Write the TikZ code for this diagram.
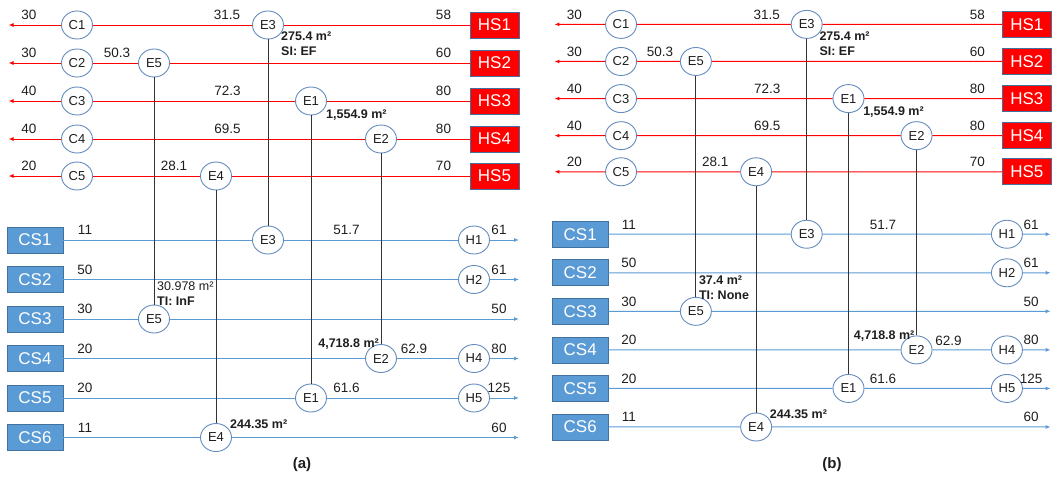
\documentclass[tikz,border=0pt]{standalone}
\usepackage{fontspec}
\setmainfont{Liberation Sans}
\usetikzlibrary{shapes.geometric, arrows.meta}

\definecolor{hotred}{RGB}{255,0,0}
\definecolor{coldblue}{RGB}{91,155,213}
\definecolor{ringblue}{RGB}{100,140,190}
\definecolor{boxedge}{RGB}{65,113,156}
\definecolor{txt}{RGB}{30,30,30}

\begin{document}
\begin{tikzpicture}[x=1pt, y=-1pt, >={Latex[length=5pt,width=4pt]},
    unit/.style={ellipse, draw=ringblue, fill=white, line width=0.9pt,
      minimum width=31pt, minimum height=28pt, inner sep=0pt,
      text=txt, font=\fontsize{13}{13}\selectfont},
    hot/.style={rectangle, fill=hotred, draw=boxedge, line width=0.6pt,
      minimum width=49pt, minimum height=26pt, inner sep=0pt,
      text=white, font=\fontsize{17}{17}\selectfont},
    cold/.style={hot, fill=coldblue, minimum width=56pt},
    hline/.style={draw=hotred, line width=1pt},
    cline/.style={draw=coldblue, line width=1pt},
    link/.style={draw=black!80, line width=1pt},
    val/.style={inner sep=0pt, text=txt, font=\fontsize{13.5}{13.5}\selectfont},
    note/.style={inner sep=0pt, text=txt, align=left, font=\fontsize{12.5}{15}\selectfont},
    area/.style={note, font=\bfseries\fontsize{12.5}{15}\selectfont}]

\useasboundingbox (0,0) rectangle (1053,477);

\foreach \p/\dx/\sx/\sy/\cx/\tnote in {a/0/1/1/302/{30.978 m²\\\textbf{TI: InF}},
    b/546.2/0.972/0.976/832/{\textbf{37.4 m²}\\\textbf{TI: None}}} {
  \begin{scope}[xshift=\dx pt, xscale=\sx, yscale=\sy]
    % hot streams
    \foreach \i/\y/\tin/\tout in {1/25/58/30, 2/63/60/30, 3/101/80/40, 4/139/80/40, 5/176/70/20} {
      \node[hot] (HS\i\p) at (494.5,\y) {HS\i};
      \node[unit] (C\i\p) at (77,\y) {C\i};
      \coordinate (hend\i\p) at (8.5,\y);
      \node[val] at (443.5,\y-10) {\tin};
      \node[val] at (29,\y-10) {\tout};
      \draw[hline, ->] (C\i\p) -- (hend\i\p);
    }
    \node[unit] (E3h\p) at (268,25) {E3};
    \node[unit] (E5h\p) at (154,63) {E5};
    \node[unit] (E1h\p) at (311,101) {E1};
    \node[unit] (E2h\p) at (381,139) {E2};
    \node[unit] (E4h\p) at (216,176) {E4};

    % cold streams
    \foreach \i/\y/\tin in {1/240/11, 2/279.5/50, 3/319/30, 4/358.5/20, 5/398/20, 6/437.5/11} {
      \node[cold] (CS\i\p) at (35,\y) {CS\i};
      \coordinate (cend\i\p) at (519,\y);
      \node[val] at (85,\y-10) {\tin};
    }
    \node[unit] (E3c\p) at (268,240) {E3};
    \node[unit] (E5c\p) at (154,319) {E5};
    \node[unit] (E2c\p) at (381,358.5) {E2};
    \node[unit] (E1c\p) at (311,398) {E1};
    \node[unit] (E4c\p) at (216,437.5) {E4};
    \node[unit] (H1\p) at (474,240) {H1};
    \node[unit] (H2\p) at (474,279.5) {H2};
    \node[unit] (H4\p) at (474,358.5) {H4};
    \node[unit] (H5\p) at (474,398) {H5};

    % temperatures between units
    \node[val] at (227,15) {31.5};
    \node[val] at (117,53) {50.3};
    \node[val] at (227.5,91) {72.3};
    \node[val] at (227.5,129) {69.5};
    \node[val] at (174,166) {28.1};
    \node[val] at (346.5,230) {51.7};
    \node[val] at (414,349) {62.9};
    \node[val] at (346.5,388) {61.6};
    \node[val] at (499,230) {61};
    \node[val] at (499,269.5) {61};
    \node[val] at (499,309) {50};
    \node[val] at (499,348.5) {80};
    \node[val] at (499,388) {125};
    \node[val] at (499,427.5) {60};

    % areas
    \node[area, anchor=north west] at (281,32) {275.4 m²\\SI: EF};
    \node[area, anchor=west] at (326,115) {1,554.9 m²};
    \node[area, anchor=east] at (379,344) {4,718.8 m²};
    \node[area, anchor=west] at (230,424) {244.35 m²};
    \node[note, anchor=north west] at (157,282) {\tnote};

    \draw[hline] (HS1\p) -- (E3h\p) -- (C1\p);
    \draw[hline] (HS2\p) -- (E5h\p) -- (C2\p);
    \draw[hline] (HS3\p) -- (E1h\p) -- (C3\p);
    \draw[hline] (HS4\p) -- (E2h\p) -- (C4\p);
    \draw[hline] (HS5\p) -- (E4h\p) -- (C5\p);

    \draw[cline, ->] (CS1\p) -- (E3c\p) -- (H1\p) -- (cend1\p);
    \draw[cline, ->] (CS2\p) -- (H2\p) -- (cend2\p);
    \draw[cline, ->] (CS3\p) -- (E5c\p) -- (cend3\p);
    \draw[cline, ->] (CS4\p) -- (E2c\p) -- (H4\p) -- (cend4\p);
    \draw[cline, ->] (CS5\p) -- (E1c\p) -- (H5\p) -- (cend5\p);
    \draw[cline, ->] (CS6\p) -- (E4c\p) -- (cend6\p);

    \draw[link] (E3h\p) -- (E3c\p);
    \draw[link] (E5h\p) -- (E5c\p);
    \draw[link] (E1h\p) -- (E1c\p);
    \draw[link] (E2h\p) -- (E2c\p);
    \draw[link] (E4h\p) -- (E4c\p);
  \end{scope}
  \node[font=\bfseries\fontsize{15}{15}\selectfont, text=txt] (cap\p) at (\cx,465) {(\p)};
}

\end{tikzpicture}
\end{document}
